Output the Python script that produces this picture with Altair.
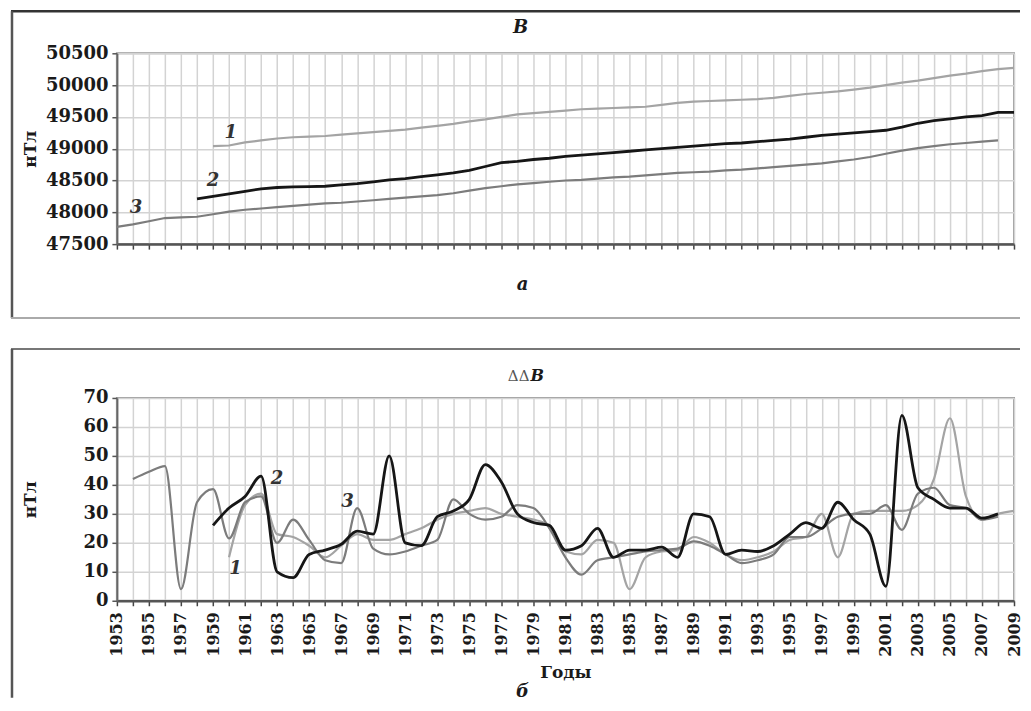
import altair as alt
import pandas as pd

# ---------------- data ----------------
YEARS = list(range(1953, 2010))

# Panel a: B, nT
B1_YEARS = list(range(1959, 2010))
B1 = [49040, 49050, 49100, 49130, 49160, 49180, 49190, 49200, 49220, 49240, 49260,
      49280, 49300, 49330, 49360, 49390, 49430, 49460, 49500, 49540, 49560,
      49580, 49600, 49620, 49630, 49640, 49650, 49660, 49690, 49720, 49740,
      49750, 49760, 49770, 49780, 49800, 49830, 49860, 49880, 49900, 49930,
      49960, 50000, 50040, 50070, 50110, 50150, 50180, 50220, 50250, 50270]

B2_YEARS = list(range(1958, 2010))
B2 = [48210, 48250, 48290, 48330, 48370, 48390, 48400, 48405, 48410, 48430, 48450, 48480,
      48510, 48530, 48560, 48590, 48620, 48660, 48720, 48780, 48800, 48830,
      48850, 48880, 48900, 48920, 48940, 48960, 48980, 49000, 49020, 49040,
      49060, 49080, 49090, 49110, 49130, 49150, 49180, 49210, 49230, 49250,
      49270, 49290, 49340, 49400, 49440, 49470, 49500, 49520, 49570, 49570]

B3_YEARS = list(range(1953, 2009))
B3 = [47770, 47810, 47860, 47910, 47920, 47930, 47970,
      48010, 48040, 48060, 48080, 48100, 48120, 48140, 48150, 48170, 48190,
      48210, 48230, 48250, 48270, 48300, 48340, 48380, 48410, 48440, 48460,
      48480, 48500, 48510, 48530, 48550, 48560, 48580, 48600, 48620, 48630,
      48640, 48660, 48670, 48690, 48710, 48730, 48750, 48770, 48800, 48830,
      48870, 48920, 48970, 49010, 49040, 49070, 49090, 49110, 49130]

# Panel b: ddB, nT
D1_YEARS = list(range(1960, 2010))
D1 = [15, 33, 37, 23, 22, 19, 15, 19, 23, 21,
      21, 23, 25, 28, 30, 31, 32, 30, 29, 28,
      26, 17, 16, 21, 20, 4, 15, 17, 17.5, 22,
      20, 16, 14, 15, 17, 21, 22, 30, 15, 30,
      31, 31, 31, 33, 42, 63, 36, 28, 30, 31]

D2_YEARS = list(range(1959, 2009))
D2 = [26, 32, 36, 43, 10, 8, 16, 17.5, 19.5, 24, 23,
      50, 20, 19, 29, 31, 35, 47, 41, 30, 27,
      26, 17.5, 19, 25, 15, 17.5, 17.5, 18.5, 15, 30,
      29, 16, 17.5, 17, 19, 23, 27, 25, 34, 28,
      23, 5, 64, 39, 35, 32, 32, 28.5, 30]

D3_YEARS = list(range(1954, 2009))
D3 = [42, 44.5, 46.5, 4, 34, 38.5,
      21.5, 34, 36, 20, 28, 21, 14, 13, 32, 18,
      16, 17, 19, 21, 35, 30, 28, 29, 33, 32,
      25, 15, 9, 14, 15, 16, 17, 17.5, 18, 20.5,
      19, 16, 13, 14, 16, 22, 22, 25, 29, 30,
      30, 33, 24.5, 37, 39, 33, 32, 28, 29]

TOP_LABELS = ["1", "2", "3"]
TOP_LABEL_YEAR = [1960.1, 1959.0, 1954.2]
TOP_LABEL_VALUE = [49240, 48500, 48065]

BOT_LABELS = ["1", "2", "3"]
BOT_LABEL_YEAR = [1960.4, 1963.0, 1967.4]
BOT_LABEL_VALUE = [11, 42, 34]

Y_TOP_TICKS = list(range(47500, 50501, 500))
Y_BOT_TICKS = list(range(0, 71, 10))

# ---------------- tables ----------------
def table(years, values, name):
    return pd.DataFrame({"year": years, "value": values, "series": name})

top_gray = pd.concat([table(B1_YEARS, B1, "1"), table(B3_YEARS, B3, "3")])
top_black = table(B2_YEARS, B2, "2")
bot_gray = pd.concat([table(D1_YEARS, D1, "1"), table(D3_YEARS, D3, "3")])
bot_black = table(D2_YEARS, D2, "2")
top_lab = pd.DataFrame({"year": TOP_LABEL_YEAR, "value": TOP_LABEL_VALUE, "label": TOP_LABELS})
bot_lab = pd.DataFrame({"year": BOT_LABEL_YEAR, "value": BOT_LABEL_VALUE, "label": BOT_LABELS})
one = pd.DataFrame({"k": [0]})

FONT = "DejaVu Serif"
W = 898
H_TOP = 191
H_BOT = 203

color_scale = alt.Scale(domain=["1", "2", "3"], range=["#a4a4a4", "#161616", "#7c7c7c"])
x_scale = alt.Scale(domain=[1953, 2009], nice=False, zero=False)

GRID = dict(grid=True, gridColor="#d3d3d3", gridWidth=1.5)


def x_enc(bottom):
    if bottom:
        axis = alt.Axis(values=YEARS, format="d",
                        labelExpr="datum.value % 2 == 1 ? datum.label : ''",
                        labelAngle=270, labelFontSize=16, labelPadding=6,
                        labelOverlap=False, tickSize=5, tickColor="#444", tickWidth=1.5,
                        domainColor="#555", domainWidth=2.5,
                        title="Годы", titleFontSize=17, titleY=72, titleBaseline="middle",
                        **GRID)
    else:
        axis = alt.Axis(values=YEARS, labels=False, title=None, labelOverlap=False,
                        tickSize=5, tickColor="#444", tickWidth=1.5,
                        domainColor="#555", domainWidth=2.5, **GRID)
    return alt.X("year:Q", scale=x_scale, axis=axis)


def y_enc(domain, ticks, h):
    return alt.Y("value:Q", scale=alt.Scale(domain=domain, nice=False, zero=False),
                 axis=alt.Axis(values=ticks, format="d", labelFontSize=18, labelPadding=4,
                               labelOverlap=False,
                               tickSize=5, tickColor="#555", tickWidth=1.5,
                               domainColor="#666", domainWidth=2,
                               title="нТл", titleFontSize=17, titleAngle=270,
                               titleX=-86, titleY=h / 2, titleAlign="center",
                               titleBaseline="middle", **GRID))


def caption(text, x, y, size=18, style="italic", weight="bold", align="center", color="#1a1a1a"):
    return alt.Chart(one).mark_text(text=text, font=FONT, fontSize=size, fontStyle=style,
                                    fontWeight=weight, align=align, baseline="middle",
                                    color=color).encode(x=alt.value(x), y=alt.value(y))


def hrule(x1, x2, y, color, w):
    return alt.Chart(one).mark_rule(color=color, strokeWidth=w).encode(
        x=alt.value(x1), x2=alt.value(x2), y=alt.value(y))


def vrule(x, y1, y2, color, w):
    return alt.Chart(one).mark_rule(color=color, strokeWidth=w).encode(
        x=alt.value(x), y=alt.value(y1), y2=alt.value(y2))


def panel(gray_df, black_df, lab_df, domain, ticks, h, bottom, interp):
    xe = x_enc(bottom)
    ye = y_enc(domain, ticks, h)
    gray = alt.Chart(gray_df).mark_line(strokeWidth=2.2, interpolate=interp).encode(
        x=xe, y=ye, color=alt.Color("series:N", scale=color_scale, legend=None),
        detail="series:N")
    black = alt.Chart(black_df).mark_line(strokeWidth=2.8, interpolate=interp).encode(
        x=xe, y=ye, color=alt.Color("series:N", scale=color_scale, legend=None))
    labels = alt.Chart(lab_df).mark_text(font=FONT, fontSize=18, fontStyle="italic",
                                         fontWeight="bold", color="#333").encode(
        x=xe, y=ye, text="label:N")
    return gray, black, labels


g1, k1, l1 = panel(top_gray, top_black, top_lab, [47500, 50500], Y_TOP_TICKS, H_TOP, False, "linear")
top = alt.layer(
    g1, k1, l1,
    caption("B", 404, -25),
    caption("а", 406, 232),
    hrule(-106, 904, -42, "#333", 2.5),
    vrule(-105, -42, 265, "#555", 2.5),
    hrule(-106, 904, 265, "#aaa", 2),
).properties(width=W, height=H_TOP)

g2, k2, l2 = panel(bot_gray, bot_black, bot_lab, [0, 70], Y_BOT_TICKS, H_BOT, True, "monotone")
bottom = alt.layer(
    g2, k2, l2,
    caption("ΔΔ", 413, -22, size=15, style="normal", weight="normal", align="right", color="#555"),
    caption("B", 414, -22, size=16, align="left"),
    caption("б", 406, 294),
    hrule(-106, 904, -49, "#777", 2),
    vrule(-105, -49, 300, "#555", 2.5),
).properties(width=W, height=H_BOT)

chart = alt.vconcat(top, bottom, spacing=25).properties(
    padding={"left": 0, "top": 0, "right": 0, "bottom": 0}
).configure_view(
    stroke="#9a9a9a", strokeWidth=2
).configure_axis(
    labelFont=FONT, labelFontWeight="bold", labelColor="#1a1a1a",
    titleFont=FONT, titleFontWeight="bold", titleColor="#1a1a1a"
)

chart.save("out.html", embed_options={"renderer": "svg", "actions": False})
